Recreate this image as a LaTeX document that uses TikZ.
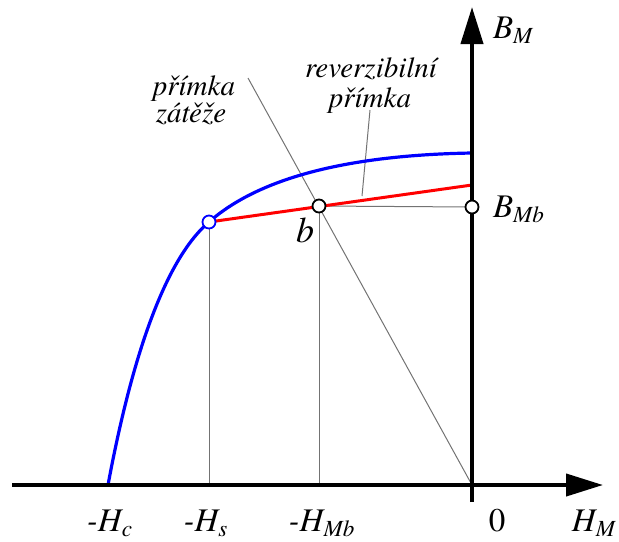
\documentclass[tikz,border=0pt]{standalone}
\usepackage{fontspec}
\setmainfont{texgyretermes}[Extension=.otf,UprightFont=*-regular,ItalicFont=*-italic,BoldFont=*-bold,BoldItalicFont=*-bolditalic]
\usetikzlibrary{arrows.meta}

\begin{document}
\begin{tikzpicture}[x=0.5pt,y=-0.5pt]
\tikzset{
  ax/.style={line width=2pt,-{Triangle[length=18.5pt,width=11pt]}},
  th/.style={line width=0.5pt,draw=black!55},
  pt/.style={circle,draw=black,line width=0.9pt,fill=white,inner sep=0pt,minimum size=6.5pt},
  tl/.style={anchor=base,font=\fontsize{16.5}{18}\selectfont\itshape},
  lb/.style={anchor=base,font=\fontsize{14.5}{14}\selectfont\itshape}
}
\useasboundingbox (0,0) rectangle (619,541);
% axes
\coordinate (O) at (472,485);
\coordinate (hl) at (12,485);
\coordinate (hr) at (603,485);
\coordinate (vb) at (472,502);
\coordinate (vt) at (472,7);
% points of the curves
\coordinate (hc) at (108,485);
\coordinate (s) at (209,222);
\coordinate (b) at (319,206);
\coordinate (bmb) at (472,207);
\coordinate (bred) at (472,185);
\coordinate (bblue) at (472,153);
\coordinate (sf) at (209,485);
\coordinate (bf) at (319,485);
\coordinate (lzs) at (248,78);
\coordinate (lrs) at (370,110);
\coordinate (lre) at (362,196);
% thin lines
\draw[th] (s) -- (sf);
\draw[th] (b) -- (bf);
\draw[th] (b) -- (bmb);
\draw[th] (lzs) -- (O);
\draw[th] (lrs) -- (lre);
% curves
\draw[blue,line width=1.6pt] (hc) .. controls (135,340) and (170,255) .. (s)
  .. controls (260,177) and (350,155) .. (bblue);
\draw[red,line width=1.5pt] (s) -- (bred);
\draw[ax] (hl) -- (hr);
\draw[ax] (vb) -- (vt);
% marked points
\node[pt,draw=blue] (ps) at (s) {};
\node[pt] (pb) at (b) {};
\node[pt] (pbm) at (bmb) {};
% labels
\node[tl] (thc) at (110,531) {-\textit{H}\textsubscript{\textit{c}}};
\node[tl] (ths) at (206,531) {-\textit{H}\textsubscript{\textit{s}}};
\node[tl] (thmb) at (322,531) {-\textit{H}\textsubscript{\textit{Mb}}};
\node[tl,font=\fontsize{16.5}{18}\selectfont] (t0) at (497,531) {0};
\node[tl] (thm) at (594,531) {\textit{H}\textsubscript{\textit{M}}};
\node[tl,anchor=base west] (tbm) at (486,38) {\textit{B}\textsubscript{\textit{M}}};
\node[tl,anchor=base west] (tbmb) at (486,217) {\textit{B}\textsubscript{\textit{Mb}}};
\node[tl,font=\fontsize{18}{20}\selectfont\itshape] (tb) at (305,242) {b};
\node[lb] (lz1) at (194,95) {přímka};
\node[lb] (lz2) at (191,122) {zátěže};
\node[lb] (lr1) at (371,77) {reverzibilní};
\node[lb] (lr2) at (370,107) {přímka};
\end{tikzpicture}
\end{document}
